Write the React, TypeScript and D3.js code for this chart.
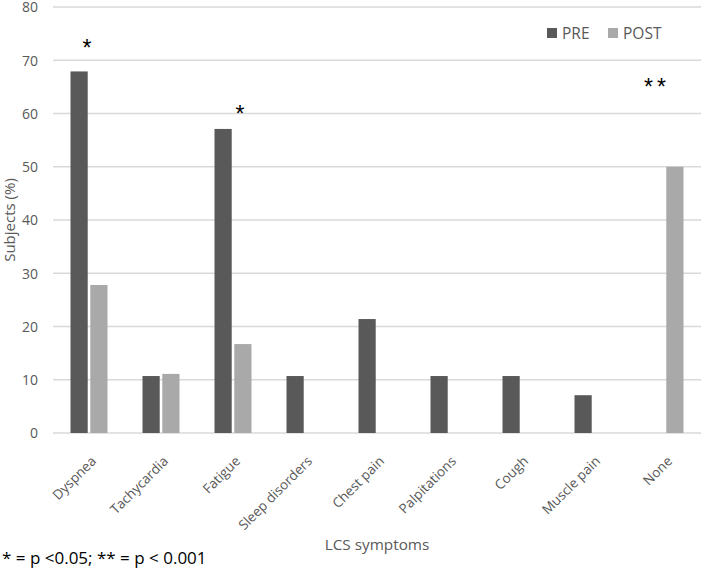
import React, { useEffect, useRef } from "react"
import * as d3 from "d3"

const categories = [
  "Dyspnea",
  "Tachycardia",
  "Fatigue",
  "Sleep disorders",
  "Chest pain",
  "Palpitations",
  "Cough",
  "Muscle pain",
  "None",
]
const preValues = [67.9, 10.7, 57.1, 10.7, 21.4, 10.7, 10.7, 7.1, 0]
const postValues = [27.8, 11.1, 16.7, 0, 0, 0, 0, 0, 50]
const seriesNames = ["PRE", "POST"]
const yTicks = [0, 10, 20, 30, 40, 50, 60, 70, 80]
// significance marks: category, height level (in %), label
const markCats = ["Dyspnea", "Fatigue", "None"]
const markLevels = [73.3, 61, 66]
const markLabels = ["*", "*", "**"]

const App = () => {
  const ref = useRef<SVGSVGElement>(null)

  useEffect(() => {
    const svg = d3.select(ref.current)
    svg.selectAll("*").remove()

    const font = "'Open Sans', sans-serif"
    const colors = d3.scaleOrdinal<string>().domain(seriesNames).range(["#595959", "#a9a9a9"])

    const x = d3.scaleBand().domain(categories).range([53, 701]).paddingInner(0).paddingOuter(0)
    const x1 = d3.scaleBand().domain(seriesNames).range([0, 37]).paddingInner(0.13)
    const y = d3.scaleLinear().domain([0, 80]).range([433, 7])

    const data = categories.map((c, i) => ({ cat: c, PRE: preValues[i], POST: postValues[i] }))

    // gridlines
    svg
      .append("g")
      .selectAll("line")
      .data(yTicks)
      .join("line")
      .attr("x1", 53)
      .attr("x2", 701)
      .attr("y1", (d) => y(d))
      .attr("y2", (d) => y(d))
      .attr("stroke", "#d9d9d9")
      .attr("stroke-width", 1.3)

    // y tick labels
    svg
      .append("g")
      .selectAll("text")
      .data(yTicks)
      .join("text")
      .attr("x", 38)
      .attr("y", (d) => y(d))
      .attr("dy", "0.38em")
      .attr("text-anchor", "end")
      .attr("font-family", font)
      .attr("font-size", 14)
      .attr("fill", "#595959")
      .text((d) => d)

    // bars
    const groupOffset = (x.bandwidth() - 37) / 2
    const groups = svg
      .append("g")
      .selectAll("g")
      .data(data)
      .join("g")
      .attr("transform", (d) => `translate(${(x(d.cat) ?? 0) + groupOffset},0)`)

    groups
      .selectAll("rect")
      .data((d) => seriesNames.map((s) => ({ s, v: (d as any)[s] as number })))
      .join("rect")
      .attr("x", (d) => x1(d.s) ?? 0)
      .attr("width", x1.bandwidth())
      .attr("y", (d) => y(d.v))
      .attr("height", (d) => y(0) - y(d.v))
      .attr("fill", (d) => colors(d.s))

    // significance marks (x shift from the category centre)
    const markShift = [0, 9, -8]
    svg
      .append("g")
      .selectAll("text")
      .data(markCats)
      .join("text")
      .attr("x", (d, i) => (x(d) ?? 0) + x.bandwidth() / 2 + markShift[i])
      .attr("y", (d, i) => y(markLevels[i]))
      .attr("dy", "0.6em")
      .attr("text-anchor", "middle")
      .attr("font-family", "'Liberation Sans', sans-serif")
      .attr("font-size", 23)
      .attr("letter-spacing", 4)
      .attr("fill", "#000")
      .text((d, i) => markLabels[i])

    // x labels rotated
    svg
      .append("g")
      .selectAll("text")
      .data(categories)
      .join("text")
      .attr("transform", (d) => `translate(${(x(d) ?? 0) + x.bandwidth() / 2 + 8},${462}) rotate(-45)`)
      .attr("text-anchor", "end")
      .attr("font-family", font)
      .attr("font-size", 13.5)
      .attr("fill", "#595959")
      .text((d) => d)

    // y axis title
    svg
      .append("text")
      .attr("transform", `translate(15,220) rotate(-90)`)
      .attr("text-anchor", "middle")
      .attr("font-family", font)
      .attr("font-size", 15)
      .attr("fill", "#595959")
      .text("Subjects (%)")

    // x axis title
    svg
      .append("text")
      .attr("x", 377)
      .attr("y", 550)
      .attr("text-anchor", "middle")
      .attr("font-family", font)
      .attr("font-size", 15.3)
      .attr("fill", "#595959")
      .text("LCS symptoms")

    // footnote
    svg
      .append("text")
      .attr("x", 2)
      .attr("y", 564)
      .attr("font-family", font)
      .attr("font-size", 17)
      .attr("fill", "#000")
      .text("* = p <0.05; ** = p < 0.001")

    // legend
    const legendX = [547, 608]
    const legend = svg
      .append("g")
      .selectAll("g")
      .data(seriesNames)
      .join("g")
      .attr("transform", (d, i) => `translate(${legendX[i]},33)`)
    legend
      .append("rect")
      .attr("x", 0)
      .attr("y", -5)
      .attr("width", 10)
      .attr("height", 10)
      .attr("fill", (d) => colors(d))
    legend
      .append("text")
      .attr("x", 15)
      .attr("dy", "0.36em")
      .attr("font-family", font)
      .attr("font-size", 15.5)
      .attr("fill", "#595959")
      .text((d) => d)
  }, [])

  return (
    <svg
      ref={ref}
      width={703}
      height={569}
      style={{ position: "absolute", left: 0, top: 0, background: "#fff" }}
    />
  )
}

export default App
